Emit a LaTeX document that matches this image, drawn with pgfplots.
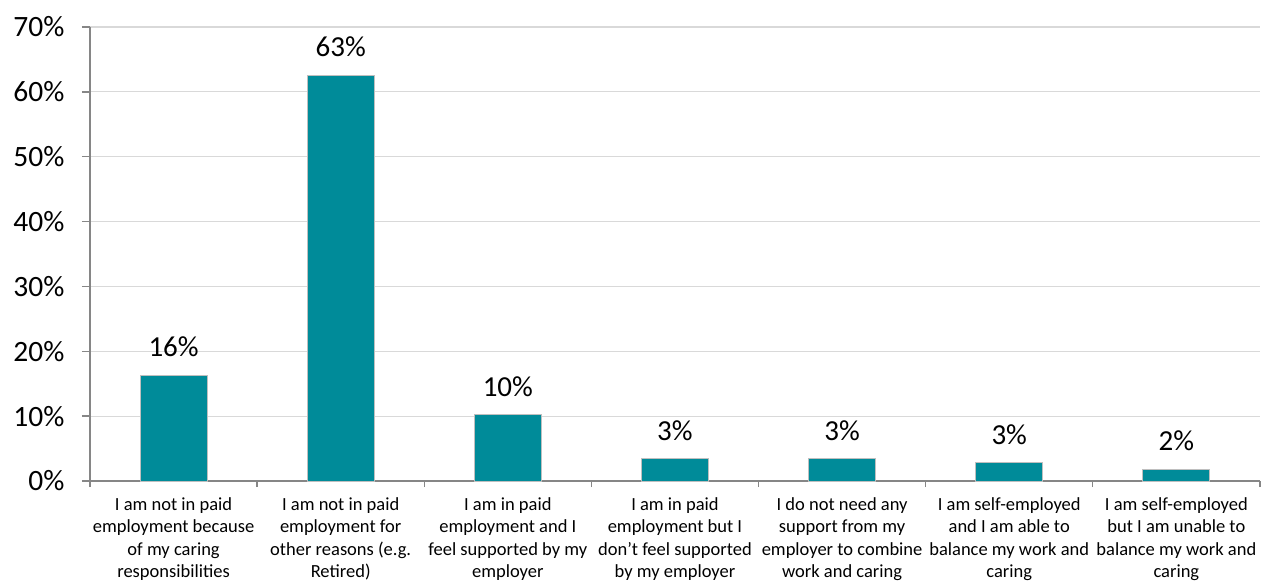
\documentclass[border=0pt]{standalone}
\usepackage{fontspec}
\setmainfont{Carlito}
\usepackage{pgfplots}
\pgfplotsset{compat=1.18}
\definecolor{barteal}{HTML}{008B99}
\definecolor{axgray}{HTML}{868686}
\definecolor{gridgray}{HTML}{D9D9D9}
\definecolor{edgegray}{HTML}{BFBFBF}
\begin{document}
\begin{tikzpicture}
\begin{axis}[
  scale only axis, width=1170pt, height=454pt,
  xmin=-0.5, xmax=6.5, ymin=0, ymax=70,
  axis lines*=left,
  axis line style={axgray, line width=1.3pt},
  ytick={0,10,...,70},
  yticklabels={0\%,10\%,20\%,30\%,40\%,50\%,60\%,70\%},
  ymajorgrids, grid style={gridgray, line width=1.1pt},
  xtick={0,...,6},
  xticklabels={
    {I am not in paid\\employment because\\of my caring\\responsibilities},
    {I am not in paid\\employment for\\other reasons (e.g.\\Retired)},
    {I am in paid\\employment and I\\feel supported by my\\employer},
    {I am in paid\\employment but I\\don’t feel supported\\by my employer},
    {I do not need any\\support from my\\employer to combine\\work and caring},
    {I am self-employed\\and I am able to\\balance my work and\\caring},
    {I am self-employed\\but I am unable to\\balance my work and\\caring}},
  major x tick style={draw=none},
  minor xtick={-0.5,0.5,...,6.5},
  tick align=outside,
  major tick length=8pt,
  minor tick length=6pt,
  tick style={axgray, line width=1.3pt},
  yticklabel style={font=\fontsize{29.5}{35}\selectfont, text=black, anchor=east, xshift=-14pt},
  xticklabel style={font=\fontsize{18.5}{22.6}\selectfont, align=center, text=black, anchor=north, inner sep=0pt, yshift=-8pt},
  ybar, bar width=67pt,
  nodes near coords,
  every node near coord/.append style={font=\fontsize{29}{35}\selectfont, anchor=base, yshift=18.5pt, text=black},
  clip=false,
]
\addplot[fill=barteal, draw=edgegray, line width=1pt, point meta=explicit symbolic] table[meta=lab] {
x y lab
0 16.3 16\%
1 62.6 63\%
2 10.2 10\%
3 3.4 3\%
4 3.4 3\%
5 2.8 3\%
6 1.85 2\%
};
\end{axis}
\pgfresetboundingbox
\path[use as bounding box] (-90pt,-101pt) rectangle (1171pt,481pt);
\end{tikzpicture}
\end{document}
